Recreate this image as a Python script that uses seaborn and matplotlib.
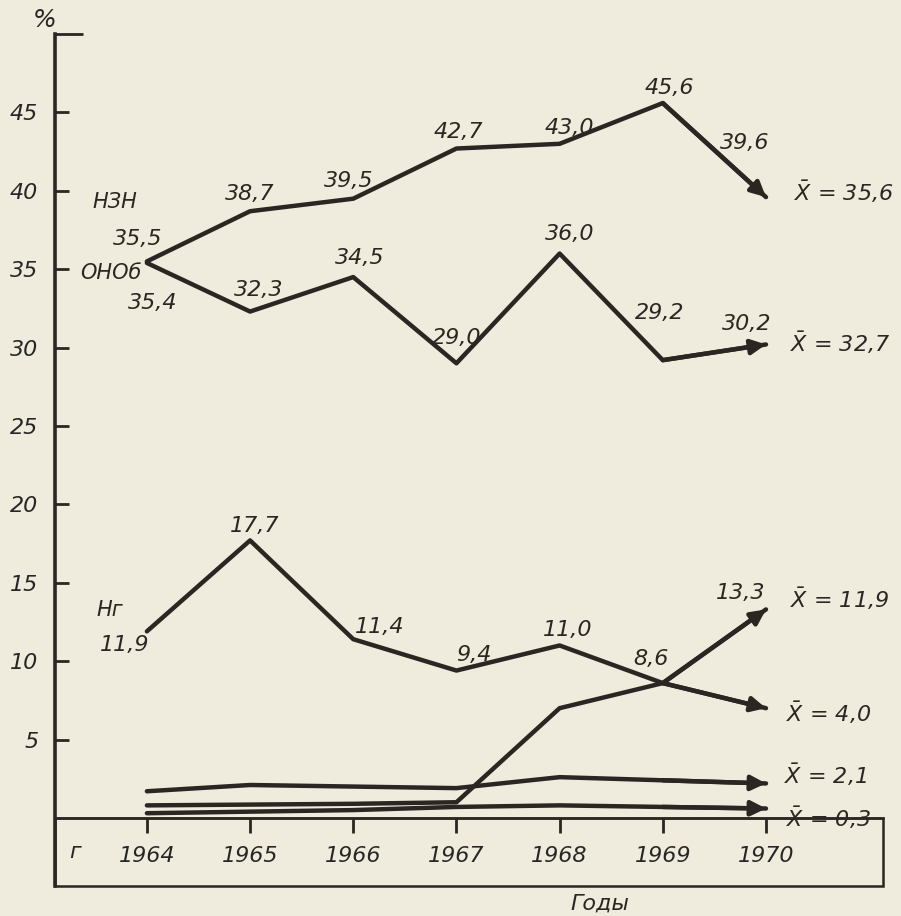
import matplotlib
matplotlib.use("Agg")
import numpy as np
import pandas as pd
import matplotlib.pyplot as plt
import seaborn as sns
from matplotlib.patches import Rectangle

# Data
years = [1964, 1965, 1966, 1967, 1968, 1969, 1970]
nzn = [35.5, 38.7, 39.5, 42.7, 43.0, 45.6, 39.6]
onob = [35.4, 32.3, 34.5, 29.0, 36.0, 29.2, 30.2]
ng = [11.9, 17.7, 11.4, 9.4, 11.0, 8.6, 13.3]
# lower curves have no value labels
low_40 = [0.8, 0.85, 0.9, 1.0, 7.0, 8.6, 7.0]
low_21 = [1.7, 2.1, 2.0, 1.9, 2.6, 2.4, 2.2]
low_03 = [0.3, 0.4, 0.5, 0.7, 0.8, 0.7, 0.6]

names = ["НЗН", "ОНОб", "Нг"]
means = ["35,6", "32,7", "11,9", "4,0", "2,1", "0,3"]
y_ticks = [5, 10, 15, 20, 25, 30, 35, 40, 45]

# Colours / style
paper = "#efebdd"
ink = "#2a2622"

sns.set_style("white", {"axes.facecolor": paper, "figure.facecolor": paper})
plt.rcParams["font.family"] = ["DejaVu Sans"]
plt.rcParams["font.style"] = "italic"
plt.rcParams["text.color"] = ink
plt.rcParams["mathtext.default"] = "it"

fig = plt.figure(figsize=(9.01, 9.16), dpi=100)
ax = fig.add_axes([0.061, 0.0328, 0.919, 0.930])

series = {"nzn": nzn, "onob": onob, "ng": ng,
          "low_40": low_40, "low_21": low_21, "low_03": low_03}
df = pd.DataFrame([(k, yr, v) for k, vals in series.items() for yr, v in zip(years, vals)],
                  columns=["series", "year", "value"])

sns.lineplot(data=df, x="year", y="value", units="series", estimator=None,
             color=ink, lw=3.2, ax=ax, legend=False)

# arrow heads on the last segment of every curve
for vals in series.values():
    ax.annotate("", xy=(years[-1], vals[-1]), xytext=(years[-2], vals[-2]),
                arrowprops=dict(arrowstyle="-|>", color=ink, lw=3.2,
                                mutation_scale=22, shrinkA=0, shrinkB=0))

# axes look
xmin, xmax = 1963.109, 1971.134
ymin, ymax = -4.34, 50
ax.set_xlim(xmin, xmax)
ax.set_ylim(ymin, ymax)
ax.set_xlabel("")
ax.set_ylabel("")

for s in ["top", "right"]:
    ax.spines[s].set_visible(False)
ax.spines["left"].set_linewidth(2.6)
ax.spines["left"].set_color(ink)
ax.spines["bottom"].set_position(("data", 0))
ax.spines["bottom"].set_linewidth(1.8)
ax.spines["bottom"].set_color(ink)

ax.set_yticks(y_ticks)
ax.set_yticklabels([str(t) for t in y_ticks], fontsize=16)
ax.set_yticks([50], minor=True)
ax.tick_params(axis="y", which="major", direction="in", length=10, width=2,
               color=ink, pad=12, left=True)
ax.tick_params(axis="y", which="minor", direction="in", length=20, width=2,
               color=ink, left=True)

ax.set_xticks(years)
ax.set_xticklabels([str(y) for y in years], fontsize=16)
ax.tick_params(axis="x", direction="out", length=11, width=2, color=ink,
               pad=9, bottom=True)

# box round the year labels
ax.add_patch(Rectangle((xmin, ymin), xmax - xmin, -ymin, fill=False,
                       lw=1.8, ec=ink, clip_on=False))

ax.text(-0.013, 1.016, "%", transform=ax.transAxes, fontsize=18,
        ha="center", va="center")
ax.text(1963.30, -2.17, "г", fontsize=16, ha="center", va="center")
ax.text(1968.39, -5.45, "Годы", fontsize=16, ha="center", va="center",
        clip_on=False)

# value labels, offsets in pixels (dx, dy up)
px = 0.72
offsets = {
    "nzn": [(-9, 22), (0, 17), (-5, 18), (2, 17), (10, 16), (7, 15), (-21, 54)],
    "onob": [(6, -40), (9, 22), (6, 19), (0, 25), (10, 20), (-3, 47), (-19, 20)],
    "ng": [(-22, -14), (5, 14), (26, 12), (17, 16), (8, 15), (-12, 24), (-25, 16)],
}
for key in ["nzn", "onob", "ng"]:
    for yr, v, (dx, dy) in zip(years, series[key], offsets[key]):
        ax.annotate(f"{v:.1f}".replace(".", ","), (yr, v),
                    xytext=(dx * px, dy * px), textcoords="offset points",
                    fontsize=16, ha="center", va="center")

# series names
name_off = [(-32, 59), (-36, -10), (-37, 21)]
for key, nm, (dx, dy) in zip(["nzn", "onob", "ng"], names, name_off):
    ax.annotate(nm, (years[0], series[key][0]), xytext=(dx * px, dy * px),
                textcoords="offset points", fontsize=15, ha="center", va="center")

# mean values at arrow tips
mean_off = [(28, 5), (24, 2), (24, 11), (20, -5), (18, 9), (20, -9)]
for vals, m, (dx, dy) in zip(series.values(), means, mean_off):
    ax.annotate(r"$\bar{X}$" + " = " + m, (years[-1], vals[-1]),
                xytext=(dx * px, dy * px), textcoords="offset points",
                fontsize=16, ha="left", va="center", annotation_clip=False)

fig.savefig("out.png", dpi=100, facecolor=paper)
